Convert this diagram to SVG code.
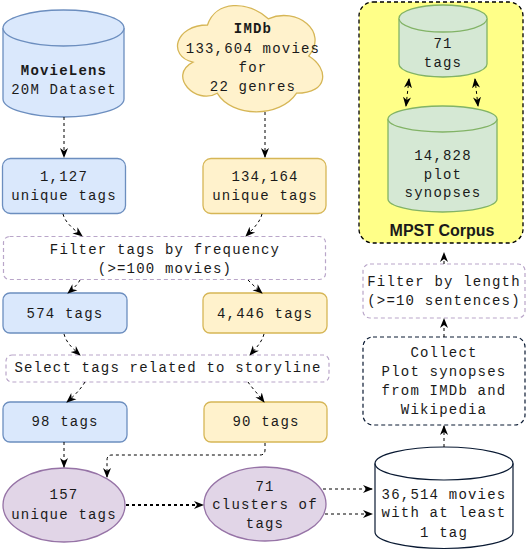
<svg xmlns="http://www.w3.org/2000/svg" width="528" height="550" viewBox="0 0 528 550">
<defs>
<marker id="ah" viewBox="0 0 10 10" refX="9" refY="5" markerWidth="10" markerHeight="10" markerUnits="userSpaceOnUse" orient="auto-start-reverse">
<path d="M0,1 L10,5 L0,9 L3,5 z" fill="#000"/>
</marker>
<style>
text{font-family:"Liberation Mono","Courier New",monospace;font-size:14px;letter-spacing:1.2px;fill:#1a1a1a;text-anchor:middle}
.b{font-weight:bold}
.blue{fill:#dae8fc;stroke:#6c8ebf;stroke-width:1.3}
.yel{fill:#fff2cc;stroke:#d6b656;stroke-width:1.3}
.pur{fill:#e1d5e7;stroke:#9673a6;stroke-width:1.3}
.grn{fill:#d5e8d4;stroke:#82b366;stroke-width:1.3}
.proc{fill:#fff;stroke:#b9a6c9;stroke-width:1.2;stroke-dasharray:4,3}
.edge{fill:none;stroke:#000;stroke-width:1;stroke-dasharray:3,3;marker-end:url(#ah)}
.bi{marker-start:url(#ah)}
.thick{stroke-width:2}
.title{font-family:"Liberation Sans",Arial,sans-serif;font-weight:bold;font-size:16px;letter-spacing:0}
</style>
</defs>

<g id="mpst">
<rect x="359" y="2" width="164" height="241" rx="14" fill="#ffff88" stroke="#000" stroke-width="1.3" stroke-dasharray="4,3"/>
<text class="title" x="442" y="236">MPST Corpus</text>
</g>

<g id="movielens">
<path class="blue" d="M3,28 A60.5,18 0 0 1 124,28 V99 A60.5,18 0 0 1 3,99 Z"/>
<path class="blue" fill="none" d="M3,28 A60.5,18 0 0 0 124,28"/>
<text class="b" x="64" y="75">MovieLens</text>
<text x="64" y="94">20M Dataset</text>
</g>

<g id="imdb">
<path class="yel" vector-effect="non-scaling-stroke" transform="translate(167,-6) scale(162,124)" d="M0.25,0.25 C0.05,0.25 0,0.5 0.16,0.55 C0,0.66 0.18,0.9 0.31,0.8 C0.4,1 0.7,1 0.8,0.8 C1,0.8 1,0.6 0.875,0.5 C1,0.3 0.8,0.1 0.625,0.2 C0.5,0.05 0.3,0.05 0.25,0.25 Z"/>
<text class="b" x="253" y="33">IMDb</text>
<text x="253" y="53">133,604 movies</text>
<text x="253" y="72">for</text>
<text x="253" y="91">22 genres</text>
</g>

<g id="tags71">
<path class="grn" d="M399,18.5 A44,13.5 0 0 1 487,18.5 V64 A44,13 0 0 1 399,64 Z"/>
<path class="grn" fill="none" d="M399,18.5 A44,13.5 0 0 0 487,18.5"/>
<text x="443" y="48">71</text>
<text x="443" y="67">tags</text>
</g>

<g id="synopses">
<path class="grn" d="M388,119 A54.5,13 0 0 1 497,119 V199 A54.5,13 0 0 1 388,199 Z"/>
<path class="grn" fill="none" d="M388,119 A54.5,13 0 0 0 497,119"/>
<text x="443" y="160">14,828</text>
<text x="443" y="179">plot</text>
<text x="443" y="197">synopses</text>
</g>

<g id="n1127">
<rect class="blue" x="2.5" y="158.5" width="123" height="55" rx="8"/>
<text x="64" y="181">1,127</text>
<text x="64" y="200">unique tags</text>
</g>

<g id="n134164">
<rect class="yel" x="203" y="158.5" width="123" height="55" rx="8"/>
<text x="265" y="181">134,164</text>
<text x="265" y="200">unique tags</text>
</g>

<g id="filterfreq">
<rect class="proc" x="3.5" y="236.5" width="322" height="43" rx="6"/>
<text x="165" y="254">Filter tags by frequency</text>
<text x="165" y="273">(&gt;=100 movies)</text>
</g>

<g id="n574">
<rect class="blue" x="3" y="293" width="124" height="40" rx="7"/>
<text x="65" y="318">574 tags</text>
</g>

<g id="n4446">
<rect class="yel" x="203" y="293" width="124" height="40" rx="7"/>
<text x="265" y="318">4,446 tags</text>
</g>

<g id="select">
<rect class="proc" x="6" y="355" width="323" height="27" rx="6"/>
<text x="168" y="372">Select tags related to storyline</text>
</g>

<g id="n98">
<rect class="blue" x="3" y="402" width="124" height="40" rx="7"/>
<text x="65" y="426">98 tags</text>
</g>

<g id="n90">
<rect class="yel" x="204" y="402" width="123" height="40" rx="7"/>
<text x="266" y="426">90 tags</text>
</g>

<g id="n157">
<ellipse class="pur" cx="64" cy="505" rx="61" ry="37"/>
<text x="64" y="499">157</text>
<text x="64" y="519">unique tags</text>
</g>

<g id="clusters">
<ellipse class="pur" cx="265" cy="504" rx="61" ry="37"/>
<text x="265" y="491">71</text>
<text x="265" y="509">clusters of</text>
<text x="265" y="528">tags</text>
</g>

<g id="movies36514">
<path fill="#fff" stroke="#0a1a33" stroke-width="1.2" d="M375,463.5 A69,16.5 0 0 1 513,463.5 V532 A69,16.5 0 0 1 375,532 Z"/>
<path fill="none" stroke="#0a1a33" stroke-width="1.2" d="M375,463.5 A69,16.5 0 0 0 513,463.5"/>
<text x="444" y="499">36,514 movies</text>
<text x="444" y="517">with at least</text>
<text x="444" y="537">1 tag</text>
</g>

<g id="collect">
<rect x="363" y="337" width="162" height="88" rx="10" fill="#fff" stroke="#0a1a33" stroke-width="1.2" stroke-dasharray="4,3"/>
<text x="444" y="357">Collect</text>
<text x="444" y="376">Plot synopses</text>
<text x="444" y="395">from IMDb and</text>
<text x="444" y="414">Wikipedia</text>
</g>

<g id="filterlen">
<rect class="proc" x="363" y="264" width="162" height="54" rx="7"/>
<text x="444" y="286">Filter by length</text>
<text x="444" y="305">(&gt;=10 sentences)</text>
</g>

<g id="connectors">
<path class="edge" d="M64,117 V157"/>
<path class="edge" d="M265,112 V157"/>
<path class="edge" d="M63,214 C65,222 72,228 82,236"/>
<path class="edge" d="M262,214 C260,222 254,228 246,236"/>
<path class="edge" d="M80,280 C78,284 74,288 68,293"/>
<path class="edge" d="M248,280 C252,284 256,288 262,293"/>
<path class="edge" d="M64,334 C66,342 72,348 80,355"/>
<path class="edge" d="M264,334 C262,342 256,348 250,355"/>
<path class="edge" d="M85,382 C80,390 74,396 67,402"/>
<path class="edge" d="M248,382 C252,388 258,394 264,402"/>
<path class="edge" d="M64,442 V467"/>
<path class="edge" d="M265,443 V450 Q265,455 260,455 H112 Q107,455 107,460 V477"/>
<path class="edge thick" d="M126,505 H203"/>
<path class="edge" stroke-width="1.6" d="M323,489 H372"/>
<path class="edge" d="M325,514 H372"/>
<path class="edge" d="M444,447 V426"/>
<path class="edge" d="M444,337 V319"/>
<path class="edge" d="M444,264 V253"/>
<path class="edge bi" d="M409,79 L406,106"/>
<path class="edge bi" d="M475,79 L478,106"/>
</g>
</svg>
